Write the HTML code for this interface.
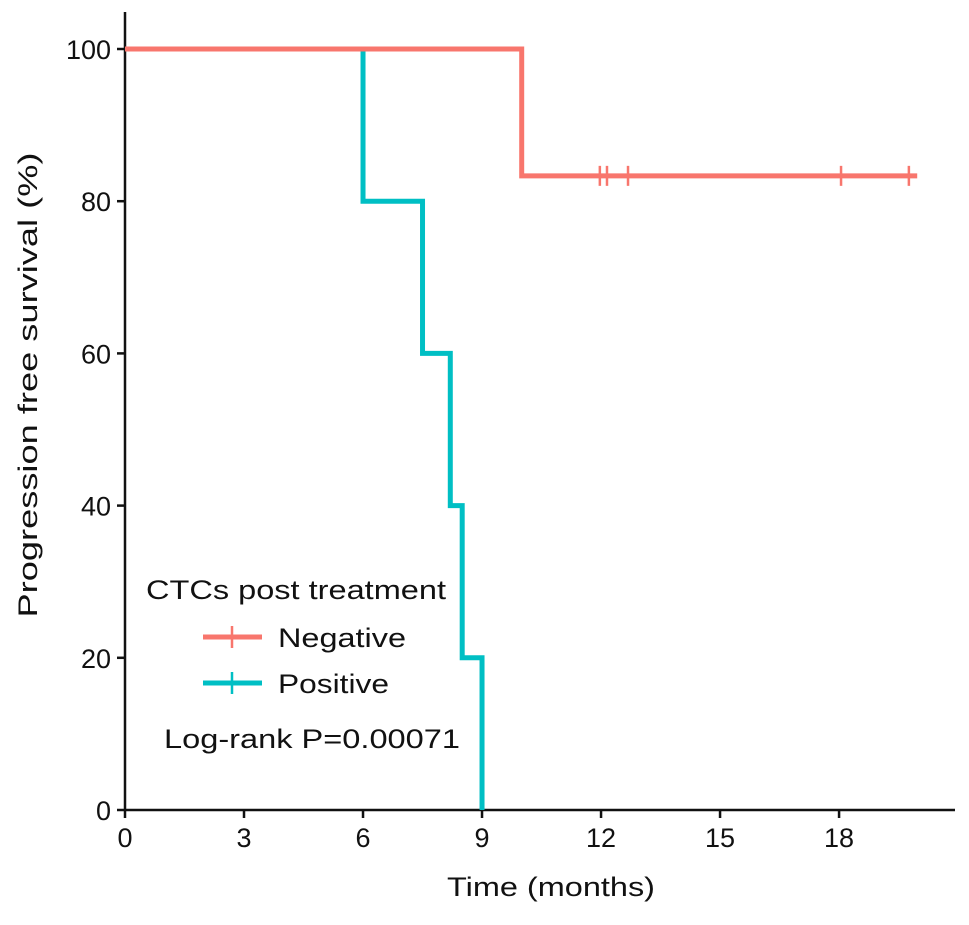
<!DOCTYPE html>
<html><head><meta charset="utf-8"><style>
body{margin:0;background:#fff;}
svg text{font-family:"Liberation Sans",Arial,sans-serif;fill:#111;}
</style></head><body>
<svg id="chart" width="969" height="920" viewBox="0 0 969 920">
<g id="axes"></g>
<g id="series"></g>
<g id="legend">
<text x="146" y="599" font-size="27" textLength="300" lengthAdjust="spacingAndGlyphs">CTCs post treatment</text>
<g>
<line x1="203" y1="637" x2="262" y2="637" stroke="#F8766D" stroke-width="5"/>
<line x1="232" y1="626" x2="232" y2="648" stroke="#F8766D" stroke-width="2.5"/>
<text x="278" y="647" font-size="27" textLength="128" lengthAdjust="spacingAndGlyphs">Negative</text></g>
<g>
<line x1="203" y1="683" x2="262" y2="683" stroke="#00BFC4" stroke-width="5"/>
<line x1="232" y1="672" x2="232" y2="694" stroke="#00BFC4" stroke-width="2.5"/>
<text x="278" y="693" font-size="27" textLength="111" lengthAdjust="spacingAndGlyphs">Positive</text></g>
<text x="164" y="748" font-size="27" textLength="296" lengthAdjust="spacingAndGlyphs">Log-rank P=0.00071</text>
</g>
</svg>
<script>
const xTicks=[0,3,6,9,12,15,18];
const yTicks=[0,20,40,60,80,100];
const negTimes=[0,10,19.97];
const negSurv=[100,83.33,83.33];
const negCensor=[11.97,12.15,12.68,18.05,19.76];
const posTimes=[0,6,7.5,8.2,8.5,9];
const posSurv=[100,80,60,40,20,0];
const x=t=>125+t*39.67;
const y=v=>810-v*7.61;
const NS="http://www.w3.org/2000/svg";
function mk(tag,attrs,parent){const e=document.createElementNS(NS,tag);for(const k in attrs)e.setAttribute(k,attrs[k]);parent.appendChild(e);return e;}
const ax=document.getElementById('axes');
let l=mk('line',{x1:125,y1:12,x2:125,y2:811,stroke:'#111','stroke-width':2.5},ax);


l=mk('line',{x1:124,y1:810,x2:955,y2:810,stroke:'#111','stroke-width':2.5},ax);


xTicks.forEach(t=>{
 mk('line',{x1:x(t),y1:810,x2:x(t),y2:818,stroke:'#111','stroke-width':2.5},ax);
 const tx=mk('text',{x:x(t),y:847,'font-size':27,'text-anchor':'middle'},ax);tx.textContent=t;
 
 
});
yTicks.forEach(v=>{
 mk('line',{x1:117,y1:y(v),x2:125,y2:y(v),stroke:'#111','stroke-width':2.5},ax);
 const tx=mk('text',{x:111,y:y(v)+10,'font-size':27,'text-anchor':'end'},ax);tx.textContent=v;
 
 
});
let t=mk('text',{x:551,y:896,'font-size':27,'text-anchor':'middle',textLength:208,lengthAdjust:'spacingAndGlyphs'},ax);t.textContent='Time (months)';


t=mk('text',{x:0,y:0,'font-size':27,'text-anchor':'middle',textLength:465,lengthAdjust:'spacingAndGlyphs',transform:'translate(37,385) rotate(-90)'},ax);t.textContent='Progression free survival (%)';


const se=document.getElementById('series');
function step(times,surv,color,name){
 let d=`M${x(times[0])},${y(surv[0])}`;
 for(let i=1;i<times.length;i++){d+=` H${x(times[i])} V${y(surv[i])}`;}
 const p=mk('path',{d:d,fill:'none',stroke:color,'stroke-width':5},se);
 
 
}
step(posTimes,posSurv,'#00BFC4','positive-curve');
step(negTimes,negSurv,'#F8766D','negative-curve');
negCensor.forEach(c=>{
 let s=negSurv[0];for(let i=0;i<negTimes.length;i++)if(negTimes[i]<=c)s=negSurv[i];
 const m=mk('line',{x1:x(c),y1:y(s)-10,x2:x(c),y2:y(s)+10,stroke:'#F8766D','stroke-width':2.5},se);
 
 
});
</script>
</body></html>
